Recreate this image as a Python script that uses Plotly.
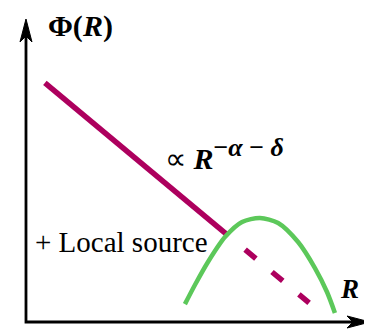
import plotly.graph_objects as go

# schematic: flux Phi(R) vs distance R (arbitrary units, axes run 0..10)
AXIS_LEN = 10.0

# power-law part  ~ R^(-alpha-delta)
powlaw_x = [0.55, 5.87]
powlaw_y = [7.89, 2.86]
# its continuation below the local source bump (dashed)
powlaw_dash_x = [6.37, 8.23]
powlaw_dash_y = [2.39, 0.63]

# local source bump
local_x = [4.62, 4.91, 5.29, 5.79, 6.28, 6.80, 7.33, 7.91, 8.40, 8.75, 8.98]
local_y = [0.59, 1.22, 1.98, 2.81, 3.30, 3.43, 3.27, 2.64, 1.78, 0.99, 0.30]

PURPLE = "#AD005E"
GREEN = "#5CC85A"
FONT = "Liberation Serif"

fig = go.Figure()
fig.add_trace(go.Scatter(x=powlaw_x, y=powlaw_y, mode="lines",
                         line=dict(color=PURPLE, width=5.5)))
fig.add_trace(go.Scatter(x=powlaw_dash_x, y=powlaw_dash_y, mode="lines",
                         line=dict(color=PURPLE, width=5.5, dash="14px,21px")))
fig.add_trace(go.Scatter(x=local_x, y=local_y, mode="lines",
                         line=dict(color=GREEN, width=4.5, shape="spline", smoothing=0.8)))

# axes drawn by hand: L-shaped line + stealth arrow heads (pixel offsets)
fig.add_shape(type="path", xref="x", yref="y",
              path=f"M 0 {AXIS_LEN - 0.5} L 0 0 L {AXIS_LEN - 0.5} 0",
              line=dict(color="black", width=2.8))
fig.add_shape(type="path", xref="x", yref="y", xsizemode="pixel", ysizemode="pixel",
              xanchor=AXIS_LEN, yanchor=0,
              path="M 0 0 L -23 6 L -17 0 L -23 -6 Z",
              fillcolor="black", line=dict(color="black", width=1))
fig.add_shape(type="path", xref="x", yref="y", xsizemode="pixel", ysizemode="pixel",
              xanchor=0, yanchor=AXIS_LEN,
              path="M 0 0 L 6 -23 L 0 -17 L -6 -23 Z",
              fillcolor="black", line=dict(color="black", width=1))

def label(x, y, text, size):
    fig.add_annotation(x=x, y=y, xref="x", yref="y", text=text, showarrow=False,
                       xanchor="left", yanchor="middle",
                       font=dict(family=FONT, size=size, color="black"))

label(0.58, 9.78, "<b>Φ(<i>R</i>)</b>", 30)
label(3.98, 5.55,
      "∝ <b><i>R</i><sup><span style='font-size:26px'>−<i>α</i> − <i>δ</i></span></sup></b>", 30)
label(0.2, 2.63, "+ Local source", 29)
label(9.08, 1.09, "<b><i>R</i></b>", 27)

# page body has an 8px margin, so the figure is 8px smaller than the window
fig.update_layout(
    width=364, height=326,
    margin=dict(l=0, r=0, t=0, b=0),
    paper_bgcolor="white", plot_bgcolor="white",
    showlegend=False,
    xaxis=dict(range=[-0.523, 10.058], visible=False, fixedrange=True),
    yaxis=dict(range=[-0.396, 10.363], visible=False, fixedrange=True),
)

fig.write_html("out.html", config={"displayModeBar": False})
